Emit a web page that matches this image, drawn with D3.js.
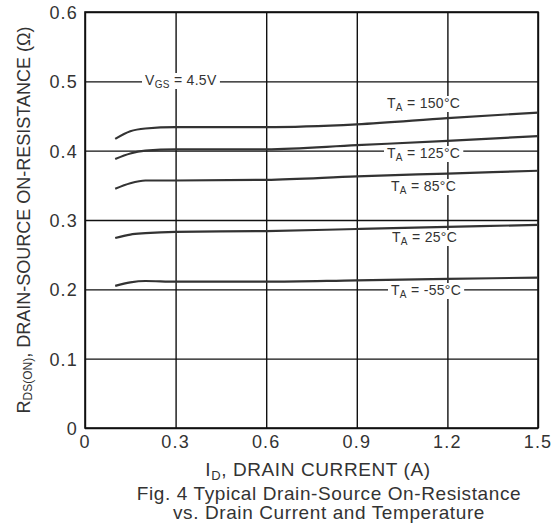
<!DOCTYPE html>
<html>
<head>
<meta charset="utf-8">
<script src="https://cdn.jsdelivr.net/npm/d3@7"></script>
<style>
  body { margin: 0; background: #fff; }
  svg { font-family: "Liberation Sans", Arial, sans-serif; }
</style>
</head>
<body>
<div id="chart"></div>
<script>
// drain current points (A)
const currents = [0.1, 0.15, 0.2, 0.3, 0.6, 0.9, 1.2, 1.5];
// on-resistance (ohm) per ambient temperature
const r150 = [0.417, 0.428, 0.432, 0.434, 0.434, 0.438, 0.447, 0.455];
const r125 = [0.388, 0.396, 0.400, 0.402, 0.402, 0.408, 0.414, 0.421];
const r85  = [0.345, 0.353, 0.357, 0.357, 0.358, 0.363, 0.367, 0.371];
const r25  = [0.274, 0.279, 0.281, 0.283, 0.284, 0.287, 0.290, 0.293];
const rm55 = [0.205, 0.210, 0.212, 0.211, 0.211, 0.213, 0.215, 0.217];
const tempLabels = ["150°C", "125°C", "85°C", "25°C", "-55°C"];
const xTicks = [0, 0.3, 0.6, 0.9, 1.2, 1.5];
const yTicks = [0, 0.1, 0.2, 0.3, 0.4, 0.5, 0.6];

const width = 552, height = 523;
const margin = { top: 12, right: 14, bottom: 95, left: 85 };
const usable = {
  left: margin.left, right: width - margin.right,
  top: margin.top, bottom: height - margin.bottom
};

const svg = d3.select("#chart").append("svg")
  .attr("width", width).attr("height", height);

const xScale = d3.scaleLinear().domain([0, 1.5]).range([usable.left, usable.right]);
const yScale = d3.scaleLinear().domain([0, 0.6]).range([usable.bottom, usable.top]);

// gridlines
svg.append("g")
  .attr("transform", `translate(0, ${usable.bottom})`)
  .call(d3.axisBottom(xScale).tickValues(xTicks).tickSize(-(usable.bottom - usable.top)).tickFormat(""))
  .call(g => g.select(".domain").remove())
  .call(g => g.selectAll("line").attr("stroke", "#111").attr("stroke-width", 1.4));

svg.append("g")
  .attr("transform", `translate(${usable.left}, 0)`)
  .call(d3.axisLeft(yScale).tickValues(yTicks).tickSize(-(usable.right - usable.left)).tickFormat(""))
  .call(g => g.select(".domain").remove())
  .call(g => g.selectAll("line").attr("stroke", "#111").attr("stroke-width", 1.4));

// frame
svg.append("rect")
  .attr("x", usable.left).attr("y", usable.top)
  .attr("width", usable.right - usable.left).attr("height", usable.bottom - usable.top)
  .attr("fill", "none").attr("stroke", "#111").attr("stroke-width", 1.6);

// tick labels
svg.append("g").selectAll("text")
  .data(xTicks).join("text")
  .attr("x", d => xScale(d)).attr("y", usable.bottom + 20)
  .attr("text-anchor", "middle").attr("font-size", 18).attr("letter-spacing", 1.2).attr("fill", "#333")
  .text(d => d === 0 ? "0" : d3.format(".1f")(d));

svg.append("g").selectAll("text")
  .data(yTicks).join("text")
  .attr("x", usable.left - 7).attr("y", d => yScale(d) + 7)
  .attr("text-anchor", "end").attr("font-size", 18).attr("letter-spacing", 1.2).attr("fill", "#333")
  .text(d => d === 0 ? "0" : d3.format(".1f")(d));

// curves
const series = [r150, r125, r85, r25, rm55];
const line = d3.line()
  .x((d, i) => xScale(currents[i]))
  .y(d => yScale(d))
  .curve(d3.curveMonotoneX);

svg.append("g").selectAll("path")
  .data(series).join("path")
  .attr("d", line)
  .attr("fill", "none").attr("stroke", "#333").attr("stroke-width", 2.2);

// annotation labels with white backing
function addLabel(x, y, main, sub, rest) {
  const g = svg.append("g");
  const t = g.append("text").attr("x", x).attr("y", y)
    .attr("font-size", 14).attr("letter-spacing", 0.3).attr("fill", "#333");
  t.append("tspan").text(main);
  t.append("tspan").attr("font-size", 10).attr("dy", 3).text(sub);
  t.append("tspan").attr("dy", -3).text(rest);
  const bb = t.node().getBBox();
  g.insert("rect", "text")
    .attr("x", bb.x - 3).attr("y", bb.y + 1)
    .attr("width", bb.width + 6).attr("height", bb.height - 2)
    .attr("fill", "#fff");
}

addLabel(145, 85, "V", "GS", " = 4.5V");
const labelPos = [[387, 108], [387, 158], [391, 191], [392, 242], [391, 295]];
tempLabels.forEach((lab, i) => addLabel(labelPos[i][0], labelPos[i][1], "T", "A", " = " + lab));

// axis titles
const yt = svg.append("text")
  .attr("transform", `translate(30, ${(usable.top + usable.bottom) / 2}) rotate(-90)`)
  .attr("text-anchor", "middle").attr("font-size", 18).attr("fill", "#333");
yt.append("tspan").text("R");
yt.append("tspan").attr("font-size", 12).attr("dy", 2).text("DS(ON)");
yt.append("tspan").attr("dy", -2).text(", DRAIN-SOURCE ON-RESISTANCE (Ω)");

const xt = svg.append("text")
  .attr("x", 318).attr("y", 476)
  .attr("text-anchor", "middle").attr("font-size", 19).attr("letter-spacing", 0.6).attr("fill", "#333");
xt.append("tspan").text("I");
xt.append("tspan").attr("font-size", 13).attr("dy", 4).text("D");
xt.append("tspan").attr("dy", -4).text(", DRAIN CURRENT (A)");

svg.append("text")
  .attr("x", 329).attr("y", 500)
  .attr("text-anchor", "middle").attr("font-size", 19).attr("letter-spacing", 0.6).attr("fill", "#333")
  .text("Fig. 4 Typical Drain-Source On-Resistance");
svg.append("text")
  .attr("x", 329).attr("y", 519)
  .attr("text-anchor", "middle").attr("font-size", 19).attr("letter-spacing", 0.6).attr("fill", "#333")
  .text("vs. Drain Current and Temperature");
</script>
</body>
</html>
